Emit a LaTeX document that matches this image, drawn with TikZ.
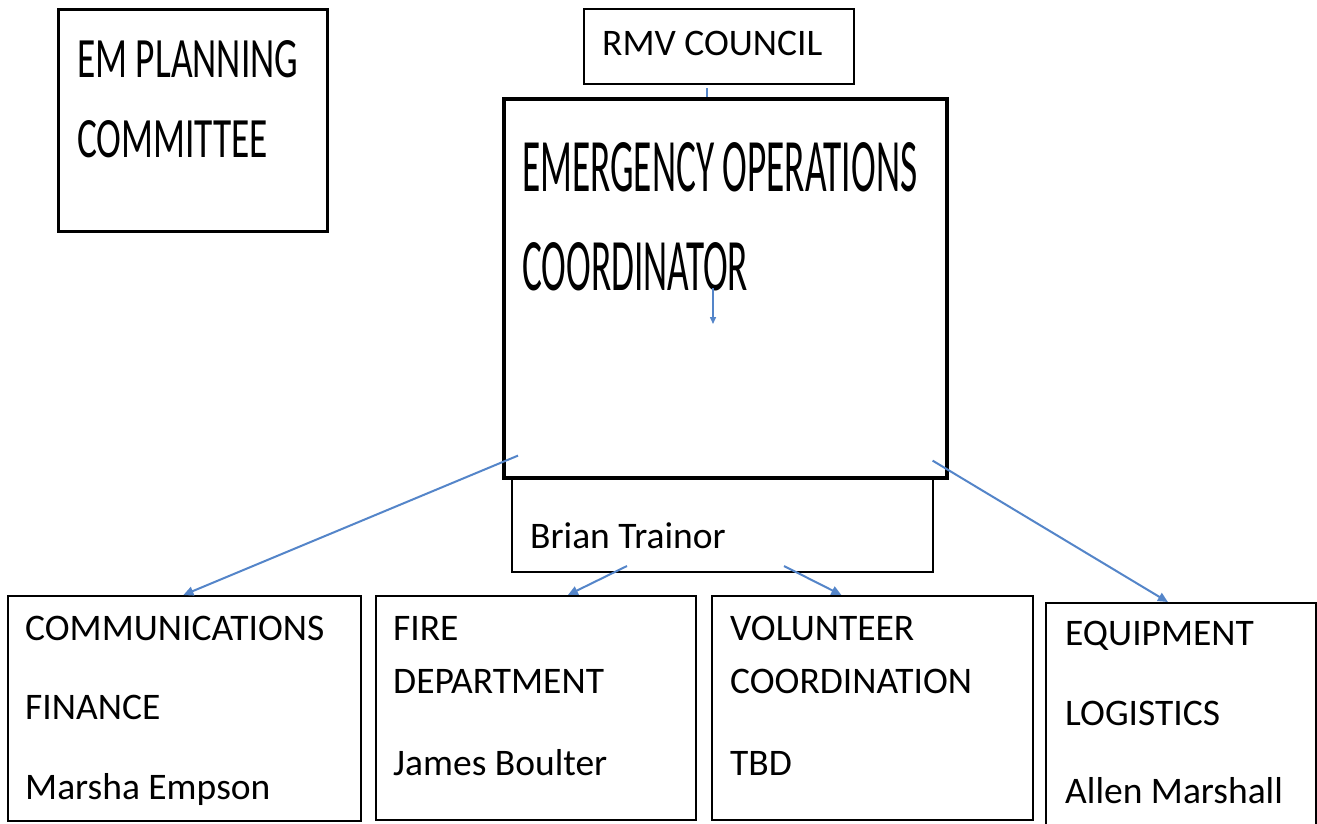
\documentclass[tikz,border=0pt]{standalone}
\usepackage{fontspec}
\setmainfont{Carlito}
\usetikzlibrary{arrows.meta}
\definecolor{arrowblue}{RGB}{84,133,201}
\newcommand{\bodyfont}{\fontsize{37.5}{45}\selectfont}
\tikzset{
  box/.style={draw=black, line width=1.8pt, inner sep=0pt, anchor=north west},
  lbl/.style={anchor=base west, inner sep=0pt, font=\bodyfont},
  conn/.style={draw=arrowblue, line width=2pt, -{Triangle[length=10pt,width=9pt]}},
  smallconn/.style={draw=arrowblue, line width=1.5pt, -{Triangle[length=7pt,width=6pt]}},
  plainconn/.style={draw=arrowblue, line width=2.2pt}
}
\begin{document}
\begin{tikzpicture}[x=1pt,y=-1pt]
\clip (0,0) rectangle (1317,823);
\fill[white] (0,0) rectangle (1317,823);

% boxes
\node[box, line width=2.6pt, minimum width=269pt, minimum height=222pt] (empc) at (57,8) {};
\node[box, line width=2.2pt, minimum width=270pt, minimum height=75pt] (rmv) at (583,8) {};
\node[box, line width=2pt, minimum width=421pt, minimum height=95pt] (brian) at (511,476) {};
\node[box, line width=3.6pt, minimum width=443pt, minimum height=379pt, fill=white] (eoc) at (502,97) {};
\node[box, minimum width=353pt, minimum height=225pt] (comm) at (7,595) {};
\node[box, minimum width=320pt, minimum height=224pt] (fire) at (375,595) {};
\node[box, minimum width=321pt, minimum height=224pt] (vol) at (711,595) {};
\node[box, minimum width=270pt, minimum height=240pt] (equip) at (1045,602) {};

% texts
\node[lbl] (t-em1) at (77,77) {\resizebox{221pt}{37pt}{EM PLANNING}};
\node[lbl] (t-em2) at (77,157) {\resizebox{191pt}{37pt}{COMMITTEE}};
\node[lbl] (t-rmv) at (602,55) {RMV COUNCIL};
\node[lbl] (t-eoc1) at (522,191) {\resizebox{395pt}{49pt}{EMERGENCY OPERATIONS}};
\node[lbl] (t-eoc2) at (522,290) {\resizebox{226pt}{48pt}{COORDINATOR}};
\node[lbl] (t-brian) at (530,548) {Brian Trainor};
\node[lbl] (t-comm1) at (25,640) {COMMUNICATIONS};
\node[lbl] (t-comm2) at (25,719) {FINANCE};
\node[lbl] (t-comm3) at (25,799) {Marsha Empson};
\node[lbl] (t-fire1) at (393,640) {FIRE};
\node[lbl] (t-fire2) at (393,693) {DEPARTMENT};
\node[lbl] (t-fire3) at (393,775) {James Boulter};
\node[lbl] (t-vol1) at (730,640) {VOLUNTEER};
\node[lbl] (t-vol2) at (730,693) {COORDINATION};
\node[lbl] (t-vol3) at (730,775) {TBD};
\node[lbl] (t-eq1) at (1065,645) {EQUIPMENT};
\node[lbl] (t-eq2) at (1065,725) {LOGISTICS};
\node[lbl] (t-eq3) at (1065,803) {Allen Marshall};

% connectors
\draw[plainconn] ([xshift=-12pt,yshift=-3pt]rmv.south) -- ([xshift=-12pt]rmv.south |- eoc.north);
\draw[smallconn] ([xshift=211pt,yshift=-191pt]eoc.north west) -- ([xshift=211pt,yshift=-227pt]eoc.north west);
\draw[conn] ([xshift=16pt,yshift=24pt]eoc.south west) -- ([xshift=-1pt]comm.north);
\draw[conn] ([xshift=-16pt,yshift=19pt]eoc.south east) -- ([xshift=-13pt]equip.north);
\draw[conn] ([xshift=116pt,yshift=7pt]brian.south west) -- ([xshift=32pt]fire.north);
\draw[conn] ([xshift=273pt,yshift=7pt]brian.south west) -- ([xshift=-31pt]vol.north);
\end{tikzpicture}
\end{document}
